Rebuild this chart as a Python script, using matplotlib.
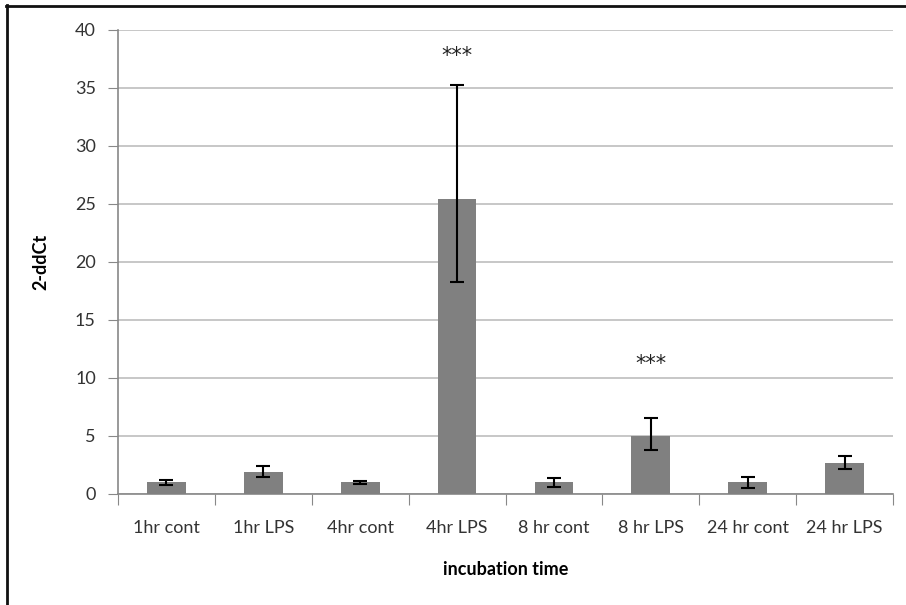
import matplotlib
matplotlib.use("Agg")
import matplotlib.pyplot as plt
from matplotlib.lines import Line2D

categories = ["1hr cont", "1hr LPS", "4hr cont", "4hr LPS",
              "8 hr cont", "8 hr LPS", "24 hr cont", "24 hr LPS"]
values = [1.0, 1.9, 1.0, 25.4, 1.0, 5.0, 1.0, 2.7]
err_low = [0.25, 0.45, 0.1, 7.1, 0.4, 1.2, 0.45, 0.55]
err_high = [0.25, 0.5, 0.1, 9.9, 0.4, 1.55, 0.5, 0.6]
stars = {3: 37.8, 5: 11.2}

plt.rcParams['font.family'] = ['Lato', 'DejaVu Sans']

fig = plt.figure(figsize=(9.06, 6.05), dpi=100)
ax = fig.add_axes([118 / 906, 111 / 605, 775 / 906, 464 / 605])

x = range(len(categories))
ax.bar(x, values, width=0.4, color="#808080", zorder=3)
ax.errorbar(x, values, yerr=[err_low, err_high], fmt="none", ecolor="black",
            elinewidth=1.5, capsize=5, capthick=1.5, zorder=4)

for i, yv in stars.items():
    ax.text(i, yv, "***", ha="center", va="center", fontsize=15,
            color="#222222", family="DejaVu Sans")

ax.set_xlim(-0.5, len(categories) - 0.5)
ax.set_ylim(0, 40)
ax.set_yticks(range(0, 41, 5))
ax.yaxis.grid(True, color="#bdbdbd", linewidth=1.2, zorder=0)
ax.set_axisbelow(True)

ax.set_xticks([i - 0.5 for i in range(len(categories) + 1)], minor=False)
ax.set_xticklabels([])
ax.set_xticks(list(x), minor=True)
ax.set_xticklabels(categories, minor=True, fontsize=13, color="#333333")
ax.tick_params(axis="x", which="major", length=8, color="#888888", direction="out")
ax.tick_params(axis="x", which="minor", length=0, pad=19)
ax.tick_params(axis="y", length=7, color="#888888", labelsize=13,
               labelcolor="#333333", pad=9)

for s in ["top", "right"]:
    ax.spines[s].set_visible(False)
for s in ["left", "bottom"]:
    ax.spines[s].set_color("#888888")
    ax.spines[s].set_linewidth(1.2)

ax.set_ylabel("2-ddCt", fontsize=13, fontweight="bold", labelpad=18)
ax.set_xlabel("incubation time", fontsize=13, fontweight="bold", labelpad=18)

fig.add_artist(Line2D([6 / 906, 1], [1 - 5.5 / 605, 1 - 5.5 / 605],
                      transform=fig.transFigure, color="#111111", linewidth=2))
fig.add_artist(Line2D([6.5 / 906, 6.5 / 906], [0, 1 - 5 / 605],
                      transform=fig.transFigure, color="#111111", linewidth=2))

fig.savefig("out.png", dpi=100)
